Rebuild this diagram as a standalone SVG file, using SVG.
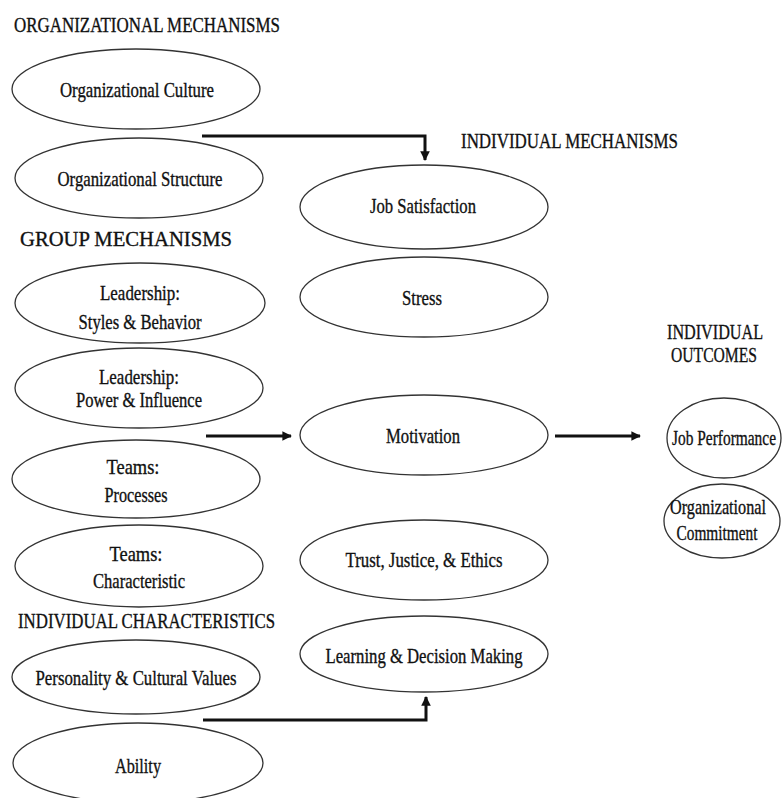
<svg xmlns="http://www.w3.org/2000/svg" width="782" height="798" viewBox="0 0 782 798">
<style>
.n{fill:#fff;stroke:#333;stroke-width:1.3}
.c{fill:none;stroke:#111;stroke-width:3}
</style>
<defs>
<marker id="ah" viewBox="0 0 10 10" refX="9" refY="5" markerWidth="3.2" markerHeight="3.2" orient="auto" markerUnits="strokeWidth">
<path d="M0,0 L10,5 L0,10 Z" fill="#111"/>
</marker>
</defs>
<rect width="782" height="798" fill="#fff"/>
<g font-family="Liberation Serif, Times New Roman, serif" font-size="22" fill="#111" stroke="#111" stroke-width="0.35" text-anchor="middle">
<g id="headers">
<text text-anchor="start" x="14" y="32" textLength="266" lengthAdjust="spacingAndGlyphs">ORGANIZATIONAL MECHANISMS</text>
<text text-anchor="start" x="461" y="148" textLength="217" lengthAdjust="spacingAndGlyphs">INDIVIDUAL MECHANISMS</text>
<text text-anchor="start" x="20" y="246" textLength="212" lengthAdjust="spacingAndGlyphs">GROUP MECHANISMS</text>
<text text-anchor="start" x="18" y="628" textLength="257" lengthAdjust="spacingAndGlyphs">INDIVIDUAL CHARACTERISTICS</text>
<text transform="translate(715,339) scale(0.734,1)" x="0" y="0" textLength="130.8" lengthAdjust="spacingAndGlyphs">INDIVIDUAL</text>
<text transform="translate(714,362) scale(0.711,1)" x="0" y="0" textLength="121" lengthAdjust="spacingAndGlyphs">OUTCOMES</text>
</g>
<g id="connectors" stroke="none">
<path class="c" d="M202,136 H425 V160" marker-end="url(#ah)"/>
<path class="c" d="M206,436 H291" marker-end="url(#ah)"/>
<path class="c" d="M555,436 H640" marker-end="url(#ah)"/>
<path class="c" d="M203,720 H426 V697" marker-end="url(#ah)"/>
</g>
<g id="org-culture"><ellipse class="n" cx="136" cy="89" rx="124" ry="40"/><text x="137" y="97" textLength="154" lengthAdjust="spacingAndGlyphs">Organizational Culture</text></g>
<g id="org-structure"><ellipse class="n" cx="139" cy="178" rx="124" ry="40"/><text x="140" y="186" textLength="165" lengthAdjust="spacingAndGlyphs">Organizational Structure</text></g>
<g id="lead-styles"><ellipse class="n" cx="140" cy="303" rx="125" ry="40"/><text x="140" y="300" textLength="80" lengthAdjust="spacingAndGlyphs">Leadership:</text><text x="140" y="329" textLength="123" lengthAdjust="spacingAndGlyphs">Styles &amp; Behavior</text></g>
<g id="lead-power"><ellipse class="n" cx="139" cy="388" rx="124" ry="40"/><text x="139" y="384" textLength="80" lengthAdjust="spacingAndGlyphs">Leadership:</text><text x="139" y="407" textLength="126" lengthAdjust="spacingAndGlyphs">Power &amp; Influence</text></g>
<g id="teams-proc"><ellipse class="n" cx="136" cy="479" rx="124" ry="39"/><text x="133" y="474" textLength="53" lengthAdjust="spacingAndGlyphs">Teams:</text><text x="136" y="502" textLength="63" lengthAdjust="spacingAndGlyphs">Processes</text></g>
<g id="teams-char"><ellipse class="n" cx="139" cy="566" rx="124" ry="41"/><text x="136" y="561" textLength="53" lengthAdjust="spacingAndGlyphs">Teams:</text><text x="139" y="588" textLength="92" lengthAdjust="spacingAndGlyphs">Characteristic</text></g>
<g id="personality"><ellipse class="n" cx="136" cy="677" rx="124" ry="37"/><text x="136" y="685" textLength="201" lengthAdjust="spacingAndGlyphs">Personality &amp; Cultural Values</text></g>
<g id="ability"><ellipse class="n" cx="138" cy="763" rx="125" ry="40"/><text x="138" y="773" textLength="46" lengthAdjust="spacingAndGlyphs">Ability</text></g>
<g id="job-sat"><ellipse class="n" cx="424" cy="207" rx="124" ry="42"/><text x="423" y="213" textLength="106" lengthAdjust="spacingAndGlyphs">Job Satisfaction</text></g>
<g id="stress"><ellipse class="n" cx="424" cy="297" rx="124" ry="40"/><text x="422" y="305" textLength="40" lengthAdjust="spacingAndGlyphs">Stress</text></g>
<g id="motivation"><ellipse class="n" cx="424" cy="435" rx="124" ry="40"/><text x="423" y="443" textLength="74" lengthAdjust="spacingAndGlyphs">Motivation</text></g>
<g id="trust"><ellipse class="n" cx="424" cy="560" rx="124" ry="40"/><text x="424" y="567" textLength="157" lengthAdjust="spacingAndGlyphs">Trust, Justice, &amp; Ethics</text></g>
<g id="learning"><ellipse class="n" cx="424" cy="654" rx="124" ry="38"/><text x="424" y="663" textLength="197" lengthAdjust="spacingAndGlyphs">Learning &amp; Decision Making</text></g>
<g id="job-perf"><ellipse class="n" cx="724" cy="438" rx="57" ry="40"/><text transform="translate(724,445) scale(0.70,1)" x="0" y="0" textLength="148.6" lengthAdjust="spacingAndGlyphs">Job Performance</text></g>
<g id="org-commit"><ellipse class="n" cx="722" cy="521" rx="58" ry="37"/><text transform="translate(718,514) scale(0.734,1)" x="0" y="0" textLength="130.8" lengthAdjust="spacingAndGlyphs">Organizational</text><text transform="translate(717,540) scale(0.70,1)" x="0" y="0" textLength="115.7" lengthAdjust="spacingAndGlyphs">Commitment</text></g>
</g>
</svg>
